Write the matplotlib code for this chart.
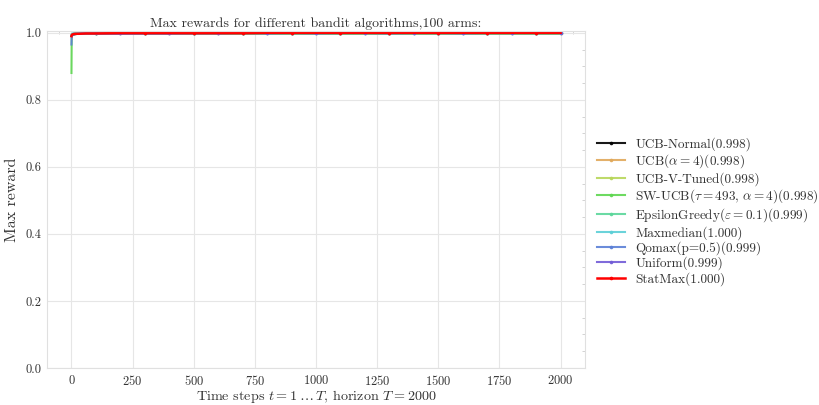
import matplotlib
matplotlib.use("Agg")
import matplotlib.pyplot as plt
from matplotlib.ticker import MultipleLocator

plt.rcParams["font.family"] = ["cmr10", "DejaVu Serif"]
plt.rcParams["mathtext.fontset"] = "cm"
plt.rcParams["axes.formatter.use_mathtext"] = True
plt.rcParams["axes.unicode_minus"] = False

# Time steps at which the max reward was recorded
time_steps = [0, 1, 2, 4, 8, 15, 30, 60, 100, 200, 300, 400, 500, 600, 700,
              800, 900, 1000, 1100, 1200, 1300, 1400, 1500, 1600, 1700, 1800,
              1900, 2000]

algorithms = [
    "UCB-Normal",
    r"UCB($\alpha=4$)",
    "UCB-V-Tuned",
    r"SW-UCB($\tau=493$, $\alpha=4$)",
    r"EpsilonGreedy($\varepsilon=0.1$)",
    "Maxmedian",
    "Qomax(p=0.5)",
    "Uniform",
    "StatMax",
]
mean_max_reward = [0.998, 0.998, 0.998, 0.998, 0.999, 1.000, 0.999, 0.999, 1.000]

max_rewards = [
    # UCB-Normal
    [0.990, 0.992, 0.993, 0.994, 0.995, 0.996, 0.997, 0.997, 0.998, 0.998, 0.998,
     0.998, 0.998, 0.998, 0.998, 0.998, 0.998, 0.998, 0.998, 0.998, 0.998, 0.998,
     0.998, 0.998, 0.998, 0.998, 0.998, 0.998],
    # UCB(alpha=4)
    [0.990, 0.992, 0.993, 0.994, 0.995, 0.996, 0.997, 0.997, 0.998, 0.998, 0.998,
     0.998, 0.998, 0.998, 0.998, 0.998, 0.998, 0.998, 0.998, 0.998, 0.998, 0.998,
     0.998, 0.998, 0.998, 0.998, 0.998, 0.998],
    # UCB-V-Tuned
    [0.990, 0.992, 0.993, 0.994, 0.995, 0.996, 0.997, 0.997, 0.998, 0.998, 0.998,
     0.998, 0.998, 0.998, 0.998, 0.998, 0.998, 0.998, 0.998, 0.998, 0.998, 0.998,
     0.998, 0.998, 0.998, 0.998, 0.998, 0.998],
    # SW-UCB
    [0.880, 0.985, 0.990, 0.993, 0.995, 0.996, 0.997, 0.997, 0.998, 0.998, 0.998,
     0.998, 0.998, 0.998, 0.998, 0.998, 0.998, 0.998, 0.998, 0.998, 0.998, 0.998,
     0.998, 0.998, 0.998, 0.998, 0.998, 0.998],
    # EpsilonGreedy
    [0.992, 0.994, 0.995, 0.996, 0.997, 0.998, 0.998, 0.999, 0.999, 0.999, 0.999,
     0.999, 0.999, 0.999, 0.999, 0.999, 0.999, 0.999, 0.999, 0.999, 0.999, 0.999,
     0.999, 0.999, 0.999, 0.999, 0.999, 0.999],
    # Maxmedian
    [0.993, 0.996, 0.997, 0.998, 0.999, 0.999, 1.000, 1.000, 1.000, 1.000, 1.000,
     1.000, 1.000, 1.000, 1.000, 1.000, 1.000, 1.000, 1.000, 1.000, 1.000, 1.000,
     1.000, 1.000, 1.000, 1.000, 1.000, 1.000],
    # Qomax
    [0.965, 0.988, 0.991, 0.993, 0.995, 0.996, 0.997, 0.998, 0.998, 0.997, 0.998,
     0.997, 0.999, 0.998, 0.999, 0.998, 0.999, 0.998, 0.999, 0.999, 0.998, 0.999,
     0.999, 0.998, 0.999, 0.999, 0.999, 0.999],
    # Uniform
    [0.990, 0.992, 0.993, 0.994, 0.995, 0.996, 0.997, 0.998, 0.998, 0.998, 0.998,
     0.999, 0.998, 0.999, 0.999, 0.999, 0.999, 0.999, 0.999, 0.999, 0.999, 0.999,
     0.999, 0.999, 0.999, 0.999, 0.999, 0.999],
    # StatMax
    [0.990, 0.993, 0.994, 0.995, 0.996, 0.997, 0.997, 0.998, 0.998, 0.999, 0.999,
     0.999, 0.999, 0.999, 0.999, 1.000, 1.000, 1.000, 1.000, 1.000, 1.000, 1.000,
     1.000, 1.000, 1.000, 1.000, 1.000, 1.000],
]

colors = ["#000000", "#e0a85a", "#b7d65a", "#5ed650", "#5bd69a", "#5bcfd6",
          "#5b80d6", "#715bd6", "#ff0000"]
linewidths = [1.5, 1.5, 1.5, 1.5, 1.5, 1.5, 1.5, 1.5, 1.8]

fig = plt.figure(figsize=(8.19, 4.05), dpi=100)
ax = fig.add_axes([0.0574, 0.0914, 0.6569, 0.831])

for i, (name, vals, mean, c, lw) in enumerate(zip(algorithms, max_rewards,
                                                  mean_max_reward, colors, linewidths)):
    ax.plot(time_steps, vals, color=c, lw=lw, alpha=0.9 if i < 8 else 1.0,
            marker="o", markersize=1.6, markevery=(8 + i % 3, 2),
            label=f"{name}({mean:.3f})")

ax.set_xlim(-100, 2100)
ax.set_ylim(0, 1.004)
ax.set_xticks(range(0, 2001, 250))
ax.set_yticks([0.0, 0.2, 0.4, 0.6, 0.8, 1.0])
ax.yaxis.set_major_formatter(plt.FuncFormatter(lambda v, p: f"{v:.1f}"))
ax.xaxis.set_minor_locator(MultipleLocator(50))
ax.yaxis.set_minor_locator(MultipleLocator(0.05))

ax.grid(True, which="major", color="#e6e6e6", lw=0.8)
ax.set_axisbelow(True)
for s in ax.spines.values():
    s.set_color("#e0e0e0")
    s.set_linewidth(0.8)
ax.tick_params(which="major", length=0, labelsize=9, colors="#333333", pad=4)
ax.tick_params(which="minor", length=2, direction="in", color="#cccccc",
               left=False, bottom=False, right=True, top=True)

ax.set_title("Max rewards for different bandit algorithms,100 arms:",
             fontsize=10, color="#333333", pad=3)
ax.set_xlabel(r"Time steps $t=1\dots T$, horizon $T=2000$", fontsize=10.2,
              color="#333333", labelpad=0)
ax.set_ylabel("Max reward", fontsize=11.5, color="#333333", labelpad=5)

leg = ax.legend(loc="center left", bbox_to_anchor=(1.0, 0.465), frameon=False,
                fontsize=9.5, handlelength=2.1, handletextpad=0.8,
                labelspacing=0.12, borderaxespad=0.5, labelcolor="#333333")

fig.savefig("out.png", dpi=100)
